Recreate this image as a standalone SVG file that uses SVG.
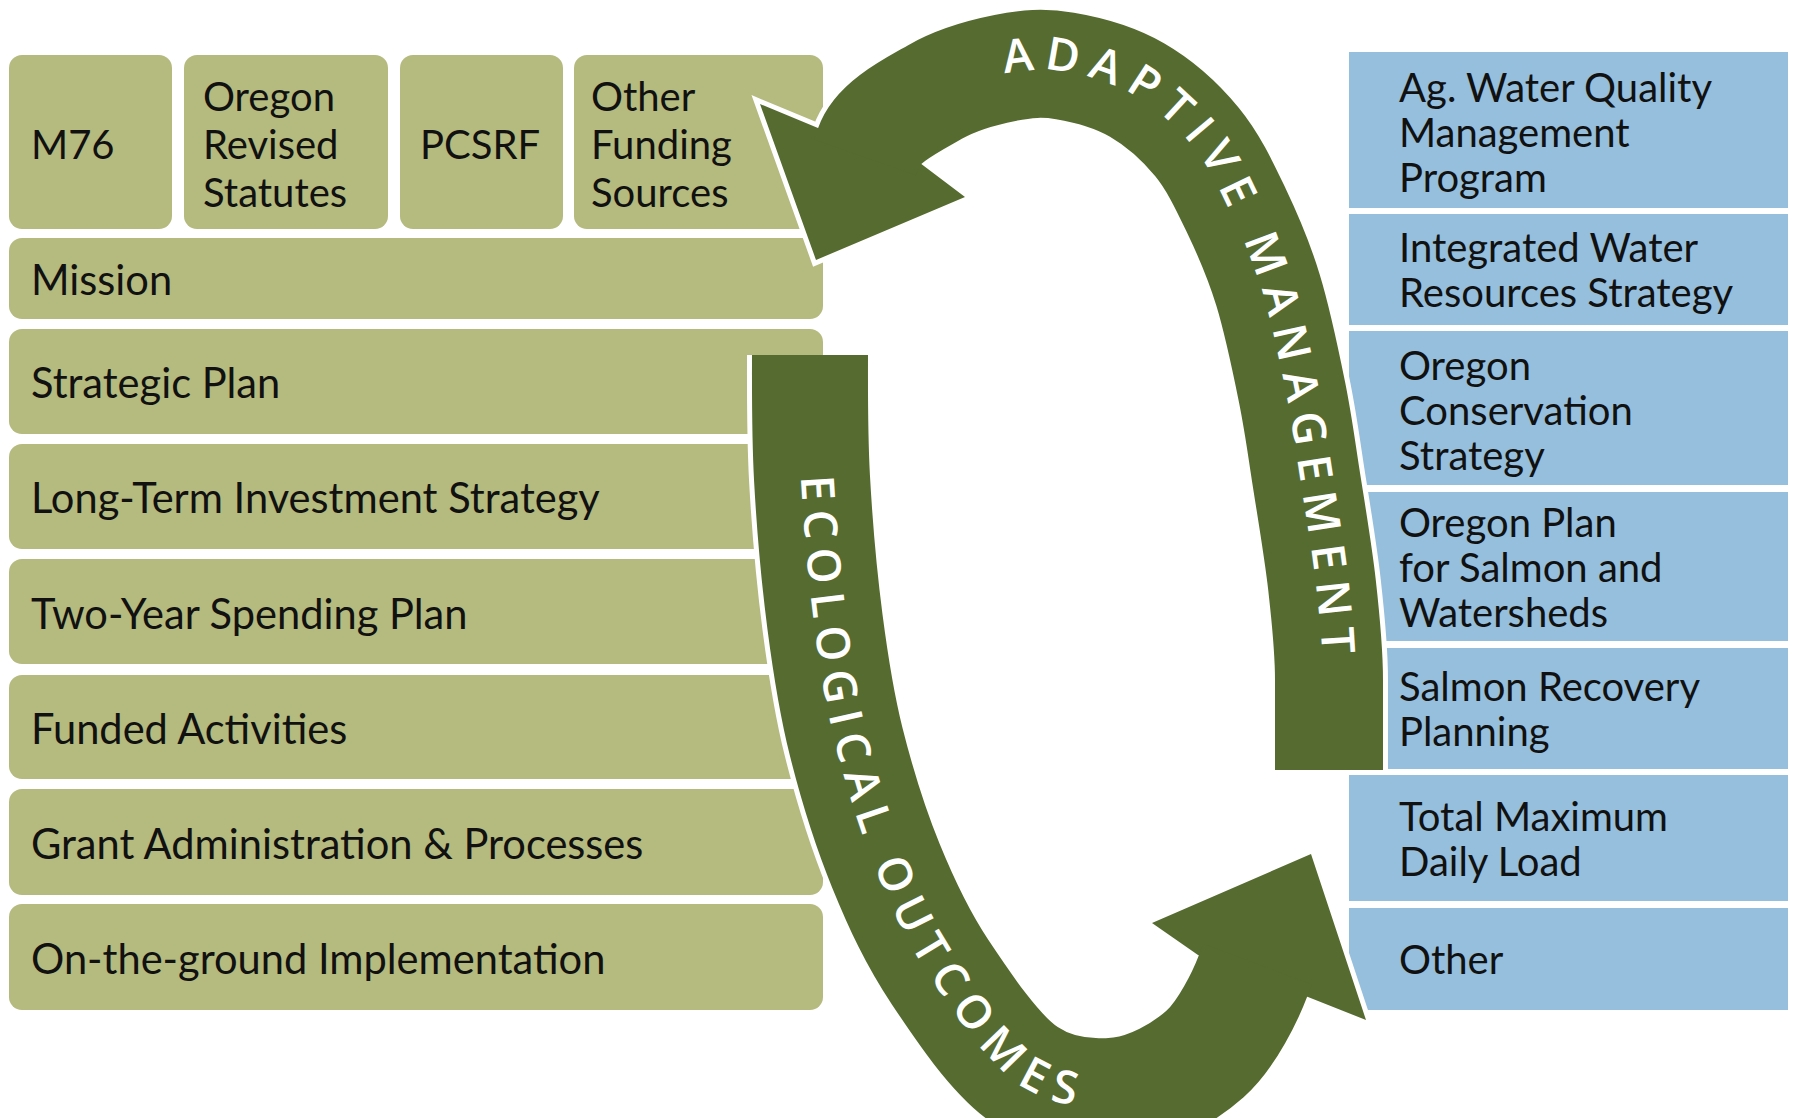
<svg xmlns="http://www.w3.org/2000/svg" width="1793" height="1118" viewBox="0 0 1793 1118">
<style>
.ol{fill:#b5ba7e}
.bl{fill:#95bfdc}
.t{font-family:Lato,"Open Sans",sans-serif;font-size:40px;fill:#111}
.r{font-size:41.6px}
.at{font-family:"Open Sans",sans-serif;font-weight:600;font-size:46px;fill:#fff}
.band{fill:none;stroke:#566b2f;stroke-linecap:butt;stroke-linejoin:round}
.under{fill:none;stroke:#fff;stroke-linecap:butt;stroke-linejoin:round}
.head{fill:#566b2f;stroke:#fff;stroke-width:10;paint-order:stroke;stroke-linejoin:miter}
</style>
<defs>
<path id="adaptC" d="M1329,770 L1329,680 C1329,649 1325.8,618.8 1322,585 C1318.2,551.2 1311,509.2 1306,477 C1301,444.8 1298.3,423.2 1292,392 C1285.7,360.8 1277.2,320 1268,290 C1258.8,260 1248.8,236.7 1237,212 C1225.2,187.3 1213.7,162.3 1197,142 C1180.3,121.7 1159,102.7 1137,90 C1115,77.3 1087,69.7 1065,66 C1043,62.3 1026.7,63.7 1005,68 C983.3,72.3 957.7,79 935,92 C912.3,105 877.1,122.4 869,146 L865,157.4"/>
<path id="adaptT" d="M869,146 C877.1,122.4 912.3,105 935,92 C957.7,79 983.3,72.3 1005,68 C1026.7,63.7 1043,62.3 1065,66 C1087,69.7 1115,77.3 1137,90 C1159,102.7 1180.3,121.7 1197,142 C1213.7,162.3 1225.2,187.3 1237,212 C1248.8,236.7 1258.8,260 1268,290 C1277.2,320 1285.7,360.8 1292,392 C1298.3,423.2 1301,444.8 1306,477 C1311,509.2 1318.2,551.2 1322,585 C1325.8,618.8 1329,649 1329,680 L1329,770"/>
<path id="ecoC" d="M810,355 C810,375 809.5,432.7 812,478 C814.5,523.3 819.3,578.2 825,622 C830.7,665.8 835.8,700.3 846,741 C856.2,781.7 870.3,827.5 886,866 C901.7,904.5 916.8,937.2 940,972 C963.2,1006.8 995,1054.5 1025,1075 C1055,1095.5 1090,1098.5 1120,1095 C1150,1091.5 1182.8,1073.8 1205,1054 C1227.2,1034.2 1245.9,994.7 1253,976 L1257.5,964"/>
</defs>
<rect width="1793" height="1118" fill="#fff"/>
<g id="n-m76"><rect class="ol" x="9" y="55" width="163" height="174" rx="13"/><text class="t" x="31" y="159">M76</text></g>
<g id="n-ors"><rect class="ol" x="184" y="55" width="204" height="174" rx="13"/><text class="t" x="203" y="111">Oregon</text><text class="t" x="203" y="159">Revised</text><text class="t" x="203" y="207">Statutes</text></g>
<g id="n-pcsrf"><rect class="ol" x="400" y="55" width="163" height="174" rx="13"/><text class="t" x="420" y="159">PCSRF</text></g>
<g id="n-other-funding"><rect class="ol" x="574" y="55" width="249" height="174" rx="13"/><text class="t" x="591" y="111">Other</text><text class="t" x="591" y="159">Funding</text><text class="t" x="591" y="207">Sources</text></g>
<g id="n-mission"><rect class="ol" x="9" y="238" width="814" height="81" rx="13"/><text class="t r" x="31" y="295">Mission</text></g>
<g id="n-strategic"><rect class="ol" x="9" y="329" width="814" height="105" rx="13"/><text class="t r" x="31" y="398">Strategic Plan</text></g>
<g id="n-lti"><rect class="ol" x="9" y="444" width="814" height="105" rx="13"/><text class="t r" x="31" y="513">Long-Term Investment Strategy</text></g>
<g id="n-twoyear"><rect class="ol" x="9" y="559" width="814" height="105" rx="13"/><text class="t r" x="31" y="629">Two-Year Spending Plan</text></g>
<g id="n-funded"><rect class="ol" x="9" y="675" width="814" height="104" rx="13"/><text class="t r" x="31" y="744">Funded Activities</text></g>
<g id="n-grant"><rect class="ol" x="9" y="789" width="814" height="106" rx="13"/><text class="t r" x="31" y="859">Grant Administration &amp; Processes</text></g>
<g id="n-ground"><rect class="ol" x="9" y="904" width="814" height="106" rx="13"/><text class="t r" x="31" y="974">On-the-ground Implementation</text></g>

<g id="n-agwq"><rect class="bl" x="1349" y="52" width="439" height="156"/><text class="t" x="1399" y="102">Ag. Water Quality</text><text class="t" x="1399" y="147">Management</text><text class="t" x="1399" y="192">Program</text></g>
<g id="n-iwrs"><rect class="bl" x="1349" y="214" width="439" height="111"/><text class="t" x="1399" y="262">Integrated Water</text><text class="t" x="1399" y="307">Resources Strategy</text></g>
<g id="n-ocs"><rect class="bl" x="1349" y="331" width="439" height="154"/><text class="t" x="1399" y="380">Oregon</text><text class="t" x="1399" y="425">Conservation</text><text class="t" x="1399" y="470">Strategy</text></g>
<g id="n-opsw"><rect class="bl" x="1349" y="492" width="439" height="149"/><text class="t" x="1399" y="537">Oregon Plan</text><text class="t" x="1399" y="582">for Salmon and</text><text class="t" x="1399" y="627">Watersheds</text></g>
<g id="n-srp"><rect class="bl" x="1349" y="648" width="439" height="121"/><text class="t" x="1399" y="701">Salmon Recovery</text><text class="t" x="1399" y="746">Planning</text></g>
<g id="n-tmdl"><rect class="bl" x="1349" y="775" width="439" height="126"/><text class="t" x="1399" y="831">Total Maximum</text><text class="t" x="1399" y="876">Daily Load</text></g>
<g id="n-other"><rect class="bl" x="1349" y="908" width="439" height="102"/><text class="t" x="1399" y="974">Other</text></g>

<g id="connectors">
<g id="adaptive-management">
<use href="#adaptC" class="under" stroke-width="118"/>
<polygon class="head" points="760,104 818,128 920,163 965,197 816,260"/>
<use href="#adaptC" class="band" stroke-width="108"/>
<text class="at" letter-spacing="10.8" dy="6"><textPath href="#adaptT" startOffset="160">ADAPTIVE MANAGEMENT</textPath></text>
</g>
<g id="ecological-outcomes">
<use href="#ecoC" class="under" stroke-width="126"/>
<polygon class="head" points="1311,854 1366,1020 1308,997 1198,955 1152,923"/>
<use href="#ecoC" class="band" stroke-width="116"/>
<text class="at" letter-spacing="8.7" dy="11"><textPath href="#ecoC" startOffset="121">ECOLOGICAL OUTCOMES</textPath></text>
</g>
</g>
</svg>
